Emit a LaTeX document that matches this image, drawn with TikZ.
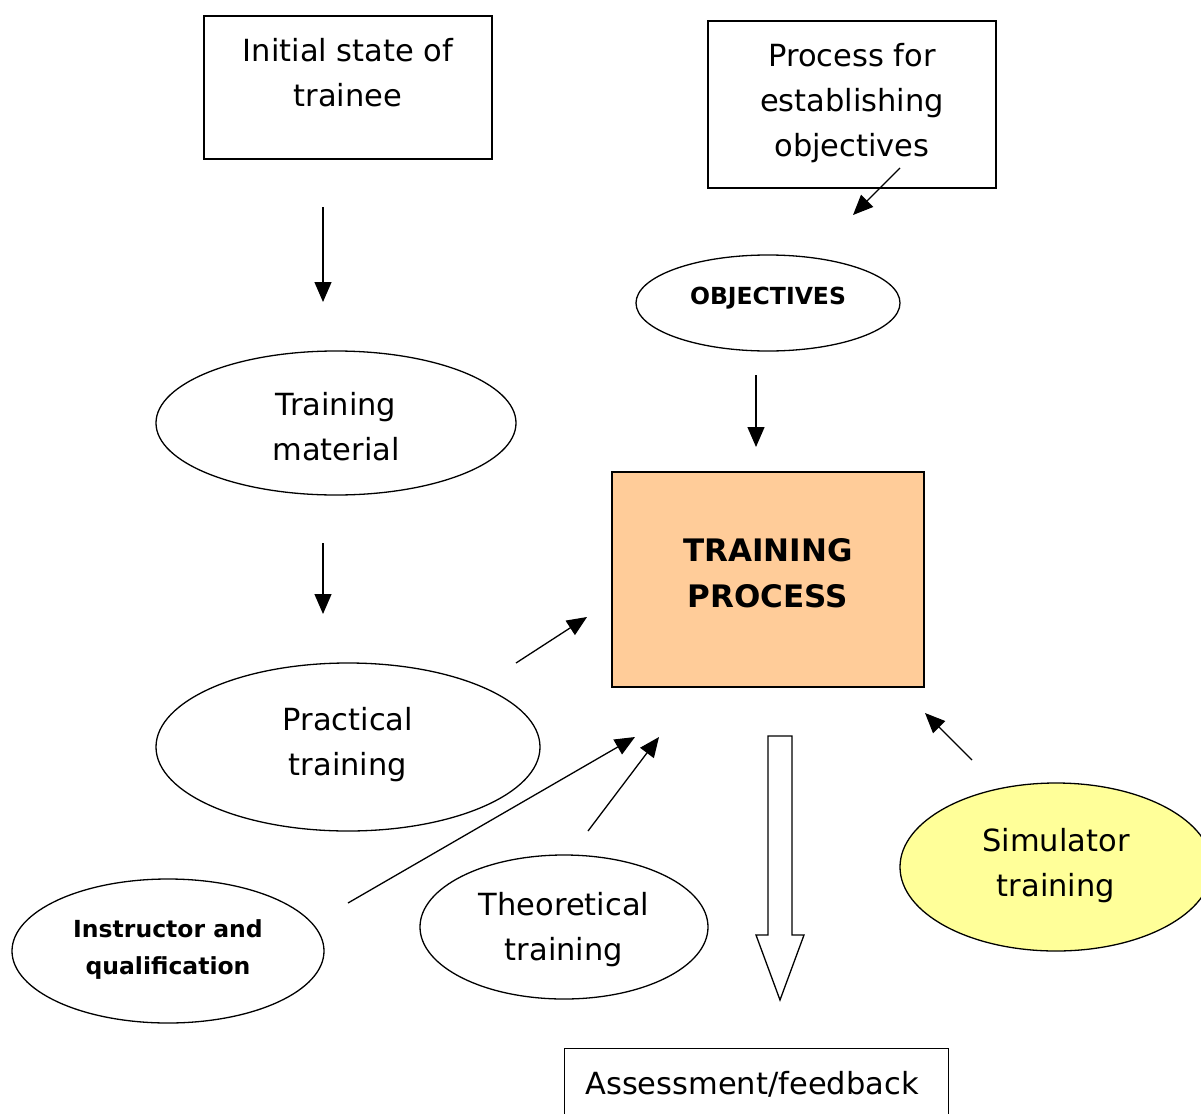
\documentclass[tikz,border=0pt]{standalone}
\usepackage{fontspec}
\setmainfont{DejaVu Sans}
\usetikzlibrary{shapes.geometric,arrows.meta}
\definecolor{peach}{HTML}{FFCC99}
\definecolor{lightyellow}{HTML}{FFFF99}
\begin{document}
\begin{tikzpicture}[x=1pt,y=-1pt,
  box/.style={draw,line width=1.3pt,inner sep=0pt},
  oval/.style={draw,ellipse,line width=1.3pt,inner sep=0pt},
  txt/.style={align=center,inner sep=0pt,font=\fontsize{30.5}{45}\selectfont},
  btxt/.style={align=center,inner sep=0pt,font=\fontsize{23.5}{37}\selectfont\bfseries},
  bbtxt/.style={align=center,inner sep=0pt,font=\fontsize{31}{46}\selectfont\bfseries},
  arr/.style={line width=1.3pt,-{Triangle[length=20pt,width=17pt]}}]
\useasboundingbox (0,0) rectangle (1201,1113);
% shapes
\node[box,minimum width=288pt,minimum height=143pt] (init) at (348,87.5) {};
\node[box,minimum width=288pt,minimum height=167pt] (proc) at (852,104.5) {};
\node[box,fill=peach,minimum width=312pt,minimum height=215pt] (tp) at (768,579.5) {};
\node[box,minimum width=384pt,minimum height=100pt,anchor=north west] (assess) at (564,1048) {};
\node[oval,minimum width=264pt,minimum height=96pt] (obj) at (768,303) {};
\node[oval,minimum width=360pt,minimum height=144pt] (mat) at (336,423) {};
\node[oval,minimum width=384pt,minimum height=168pt] (prac) at (348,747) {};
\node[oval,minimum width=312pt,minimum height=144pt] (instr) at (168,951) {};
\node[oval,minimum width=288pt,minimum height=144pt] (theo) at (564,927) {};
\node[oval,fill=lightyellow,minimum width=312pt,minimum height=168pt] (sim) at (1056,867) {};
% texts
\node[txt] (inittxt) at (348,73) {Initial state of\\trainee};
\node[txt] (proctxt) at (852,103) {Process for\\establishing\\objectives};
\node[bbtxt] (tptxt) at (768,573) {TRAINING\\PROCESS};
\node[txt,anchor=base] (assesstxt) at (752,1094) {Assessment/feedback};
\node[btxt] (objtxt) at (768,298) {OBJECTIVES};
\node[txt] (mattxt) at (336,427) {Training\\material};
\node[txt] (practxt) at (348,745) {Practical\\training};
\node[btxt] (instrtxt) at (168,950) {Instructor and\\qualification};
\node[txt] (theotxt) at (564,930) {Theoretical\\training};
\node[txt] (simtxt) at (1056,866) {Simulator\\training};
% arrow endpoints
\coordinate (a1s) at (323,207); \coordinate (a1e) at (323,302);
\coordinate (a2s) at (323,543); \coordinate (a2e) at (323,614);
\coordinate (a3s) at (900,168); \coordinate (a3e) at (853,215);
\coordinate (a4s) at (756,375); \coordinate (a4e) at (756,447);
\coordinate (a5s) at (516,663); \coordinate (a5e) at (587,617);
\coordinate (a6s) at (348,903); \coordinate (a6e) at (635,737);
\coordinate (a7s) at (588,831); \coordinate (a7e) at (659,737);
\coordinate (a8s) at (972,760); \coordinate (a8e) at (925,713);
\draw[arr] (a1s) -- (a1e);
\draw[arr] (a2s) -- (a2e);
\draw[arr] (a3s) -- (a3e);
\draw[arr] (a4s) -- (a4e);
\draw[arr] (a5s) -- (a5e);
\draw[arr] (a6s) -- (a6e);
\draw[arr] (a7s) -- (a7e);
\draw[arr] (a8s) -- (a8e);
% block arrow
\draw[line width=1.3pt,fill=white] (768,736) -- (792,736) -- (792,935) -- (804,935) -- (780,1000) -- (756,935) -- (768,935) -- cycle;
\end{tikzpicture}
\end{document}
